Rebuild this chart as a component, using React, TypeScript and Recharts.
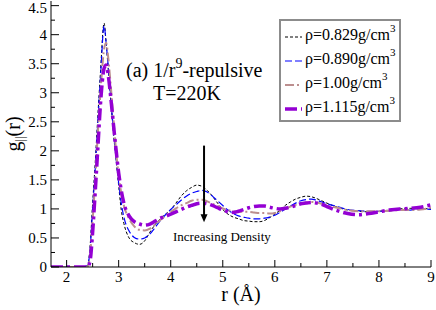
import { LineChart, Line, XAxis, YAxis, ReferenceLine, Legend } from 'recharts'

// r grid (Å)
const rValues = [
  1.7, 2.0, 2.3, 2.4, 2.45, 2.5, 2.55, 2.6, 2.65, 2.72, 2.76, 2.8, 2.85, 2.9, 2.95, 3.0, 3.05, 3.1,
  3.2, 3.3, 3.4, 3.5, 3.6, 3.7, 3.8, 3.9, 4.0, 4.1, 4.2, 4.3, 4.4, 4.5, 4.6, 4.7, 4.8, 4.9, 5.0,
  5.1, 5.2, 5.3, 5.4, 5.5, 5.6, 5.7, 5.8, 5.9, 6.0, 6.1, 6.2, 6.3, 6.4, 6.5, 6.6, 6.7, 6.8, 6.9, 7.0,
  7.2, 7.4, 7.6, 7.8, 8.0, 8.2, 8.4, 8.6, 8.8, 9.0,
]

const g0829 = [
  0, 0, 0, 0.02, 0.35, 1.1, 1.8, 2.6, 3.35, 4.2, 3.85, 3.4, 2.85, 2.3, 1.85, 1.4, 0.98, 0.75,
  0.5, 0.42, 0.39, 0.45, 0.6, 0.73, 0.83, 0.91, 0.99, 1.1, 1.22, 1.31, 1.37, 1.41, 1.39, 1.32, 1.22, 1.1, 0.99,
  0.91, 0.86, 0.83, 0.8, 0.79, 0.78, 0.78, 0.8, 0.85, 0.91, 0.98, 1.06, 1.12, 1.17, 1.2, 1.22, 1.21, 1.18, 1.14, 1.1,
  1.03, 0.98, 0.96, 0.95, 0.96, 0.98, 1.0, 1.01, 1.0, 1.01,
]

const g0890 = [
  0, 0, 0, 0.02, 0.3, 1.0, 1.7, 2.5, 3.25, 4.15, 3.85, 3.45, 2.9, 2.35, 1.88, 1.45, 1.1, 0.86,
  0.62, 0.51, 0.48, 0.5, 0.57, 0.68, 0.8, 0.9, 0.99, 1.07, 1.15, 1.22, 1.27, 1.3, 1.32, 1.29, 1.22, 1.14, 1.06,
  0.98, 0.92, 0.88, 0.86, 0.84, 0.83, 0.83, 0.84, 0.86, 0.89, 0.94, 1.0, 1.05, 1.1, 1.14, 1.16, 1.17, 1.15, 1.12, 1.09,
  1.04, 0.99, 0.97, 0.96, 0.96, 0.97, 0.99, 0.98, 1.0, 0.99,
]

const g100 = [
  0, 0, 0, 0, 0.2, 0.8, 1.5, 2.3, 3.0, 3.75, 3.86, 3.6, 3.1, 2.55, 2.0, 1.58, 1.27, 1.06,
  0.83, 0.7, 0.64, 0.63, 0.66, 0.73, 0.81, 0.88, 0.95, 1.01, 1.06, 1.1, 1.14, 1.16, 1.16, 1.13, 1.09, 1.05, 1.01,
  0.98, 0.96, 0.95, 0.95, 0.95, 0.94, 0.93, 0.93, 0.92, 0.93, 0.96, 1.0, 1.04, 1.07, 1.09, 1.11, 1.12, 1.11, 1.09, 1.06,
  1.02, 0.98, 0.96, 0.96, 0.96, 0.97, 0.98, 0.98, 0.99, 1.02,
]

const g1115 = [
  0, 0, 0, 0, 0.1, 0.6, 1.3, 2.05, 2.8, 3.42, 3.48, 3.3, 2.9, 2.45, 2.02, 1.62, 1.32, 1.1,
  0.88, 0.78, 0.74, 0.72, 0.74, 0.79, 0.84, 0.87, 0.91, 0.95, 0.99, 1.03, 1.06, 1.09, 1.1, 1.09, 1.06, 1.02, 0.98,
  0.95, 0.94, 0.96, 0.99, 1.02, 1.04, 1.05, 1.05, 1.03, 1.01, 1.0, 1.01, 1.03, 1.06, 1.09, 1.1, 1.11, 1.1, 1.08, 1.04,
  0.97, 0.92, 0.9, 0.92, 0.95, 0.98, 1.0, 1.01, 1.03, 1.07,
]

const xTicks = [2, 2.5, 3, 3.5, 4, 4.5, 5, 5.5, 6, 6.5, 7, 7.5, 8, 8.5, 9]
const yTicks = [0, 0.25, 0.5, 0.75, 1, 1.25, 1.5, 1.75, 2, 2.25, 2.5, 2.75, 3, 3.25, 3.5, 3.75, 4, 4.25, 4.5]

// arrow "Increasing Density": r position and g range
const arrowR = 4.64
const arrowFrom = 2.09
const arrowTo = 0.77

const series = [
  { key: 'g0829', rho: '0.829', color: '#000000', width: 1, dash: '3 2' },
  { key: 'g0890', rho: '0.890', color: '#0000ff', width: 1.2, dash: '7 3' },
  { key: 'g100', rho: '1.00', color: '#bc8f8f', width: 2, dash: '9 3 2 3' },
  { key: 'g1115', rho: '1.115', color: '#9400d3', width: 3.5, dash: '12 4 3 4' },
]

const data = rValues.map((r, i) => ({
  r,
  g0829: g0829[i],
  g0890: g0890[i],
  g100: g100[i],
  g1115: g1115[i],
}))

const FONT = '"Liberation Serif", "Times New Roman", serif'

const isMajorX = (v: number) => Number.isInteger(v)
const isMajorY = (v: number) => Math.abs(v * 2 - Math.round(v * 2)) < 1e-9

const BottomTick = (p: any) => {
  const v = p.payload.value
  const major = isMajorX(v)
  return (
    <g>
      <line x1={p.x} x2={p.x} y1={p.y} y2={p.y - (major ? 7 : 4)} stroke="#000" />
      {major && (
        <text x={p.x} y={p.y + 15} textAnchor="middle" style={{ fontFamily: FONT, fontSize: 15 }} fill="#000">
          {v}
        </text>
      )}
    </g>
  )
}

const TopTick = (p: any) => {
  const major = isMajorX(p.payload.value)
  return <line x1={p.x} x2={p.x} y1={p.y} y2={p.y + (major ? 7 : 4)} stroke="#000" />
}

const LeftTick = (p: any) => {
  const v = p.payload.value
  const major = isMajorY(v)
  return (
    <g>
      <line x1={p.x} x2={p.x + (major ? 8 : 4)} y1={p.y} y2={p.y} stroke="#000" />
      {major && (
        <text x={p.x - 4} y={Math.max(p.y + 5, 13)} textAnchor="end" style={{ fontFamily: FONT, fontSize: 15 }} fill="#000">
          {v}
        </text>
      )}
    </g>
  )
}

const RightTick = (p: any) => {
  const major = isMajorY(p.payload.value)
  return <line x1={p.x} x2={p.x - (major ? 8 : 4)} y1={p.y} y2={p.y} stroke="#000" />
}

const XTitle = (p: any) => {
  const vb = p.viewBox
  return (
    <text x={vb.x + vb.width / 2} y={vb.y + 34} textAnchor="middle" style={{ fontFamily: FONT, fontSize: 20 }} fill="#000">
      r (Å)
    </text>
  )
}

const YTitle = (p: any) => {
  const vb = p.viewBox
  const cx = vb.x + 20
  const cy = vb.y + vb.height / 2
  return (
    <text x={cx} y={cy} transform={`rotate(-90, ${cx}, ${cy})`} textAnchor="middle" style={{ fontFamily: FONT, fontSize: 20 }} fill="#000">
      g<tspan style={{ fontSize: 13 }} dy={4}>||</tspan>
      <tspan dy={-4}>(r)</tspan>
    </text>
  )
}

const Arrow = (p: any) => {
  const { x1, y1, x2, y2 } = p
  return (
    <g>
      <line x1={x1} y1={y1} x2={x2} y2={y2 - 6} stroke="#000" strokeWidth={2} />
      <polygon points={`${x2 - 3.5},${y2 - 8} ${x2 + 3.5},${y2 - 8} ${x2},${y2}`} fill="#000" />
    </g>
  )
}

const LegendBox = () => (
  <div
    style={{
      width: 122,
      height: 103,
      boxSizing: 'border-box',
      border: '2px solid #8c8c8c',
      background: '#fff',
      paddingTop: 2,
      fontFamily: FONT,
      fontSize: 16,
      color: '#000',
    }}
  >
    {series.map((s) => (
      <div key={s.key} style={{ height: 24, lineHeight: '24px', whiteSpace: 'nowrap', display: 'flex', alignItems: 'center' }}>
        <svg width={24} height={24} style={{ flex: 'none' }}>
          <line x1={4} x2={21} y1={14} y2={14} stroke={s.color} strokeWidth={s.width} strokeDasharray={s.dash} />
        </svg>
        <span>
          ρ={s.rho}g/cm
          <span style={{ fontSize: 11, position: 'relative', top: -8 }}>3</span>
        </span>
      </div>
    ))}
  </div>
)

export default function App() {
  return (
    <div style={{ position: 'absolute', left: 0, top: 0, width: 436, height: 310, background: '#fff', fontFamily: FONT }}>
      <LineChart width={436} height={310} data={data} margin={{ top: 1, right: 5, bottom: 0, left: 0 }}>
        <XAxis
          dataKey="r"
          type="number"
          domain={[1.7, 9]}
          ticks={xTicks}
          interval={0}
          allowDataOverflow
          height={43}
          tickSize={0}
          tickMargin={0}
          tickLine={false}
          axisLine={{ stroke: '#000' }}
          tick={(p: any) => <BottomTick {...p} />}
          label={{ content: XTitle }}
        />
        <XAxis
          xAxisId="top"
          orientation="top"
          dataKey="r"
          type="number"
          domain={[1.7, 9]}
          ticks={xTicks}
          interval={0}
          allowDataOverflow
          height={0}
          tickSize={0}
          tickMargin={0}
          tickLine={false}
          axisLine={{ stroke: '#000' }}
          tick={(p: any) => <TopTick {...p} />}
        />
        <YAxis
          type="number"
          domain={[0, 4.58]}
          ticks={yTicks}
          interval={0}
          allowDataOverflow
          width={51}
          tickSize={0}
          tickMargin={0}
          tickLine={false}
          axisLine={{ stroke: '#000' }}
          tick={(p: any) => <LeftTick {...p} />}
          label={{ content: YTitle }}
        />
        <YAxis
          yAxisId="right"
          orientation="right"
          type="number"
          domain={[0, 4.58]}
          ticks={yTicks}
          interval={0}
          allowDataOverflow
          width={0}
          tickSize={0}
          tickMargin={0}
          tickLine={false}
          axisLine={{ stroke: '#000' }}
          tick={(p: any) => <RightTick {...p} />}
        />
        {series.map((s) => (
          <Line
            key={s.key}
            dataKey={s.key}
            type="monotone"
            stroke={s.color}
            strokeWidth={s.width}
            strokeDasharray={s.dash}
            dot={false}
            activeDot={false}
            isAnimationActive={false}
          />
        ))}
        <ReferenceLine
          segment={[{ x: arrowR, y: arrowFrom }, { x: arrowR, y: arrowTo }]}
          stroke="#000"
          strokeWidth={2}
          shape={(p: any) => <Arrow {...p} />}
        />
        <Legend
          layout="vertical"
          align="center"
          verticalAlign="middle"
          content={() => <LegendBox />}
          wrapperStyle={{ left: 279, top: 19, width: 122, height: 103 }}
        />
      </LineChart>
      <div style={{ position: 'absolute', left: 126, top: 60, fontSize: 20, lineHeight: '20px', whiteSpace: 'nowrap' }}>
        (a) 1/r<span style={{ fontSize: 14, position: 'relative', top: -9 }}>9</span>-repulsive
      </div>
      <div style={{ position: 'absolute', left: 153, top: 83, fontSize: 20, lineHeight: '20px', whiteSpace: 'nowrap' }}>
        T=220K
      </div>
      <div style={{ position: 'absolute', left: 173, top: 230, fontSize: 13, lineHeight: '13px', whiteSpace: 'nowrap' }}>
        Increasing Density
      </div>
    </div>
  )
}
